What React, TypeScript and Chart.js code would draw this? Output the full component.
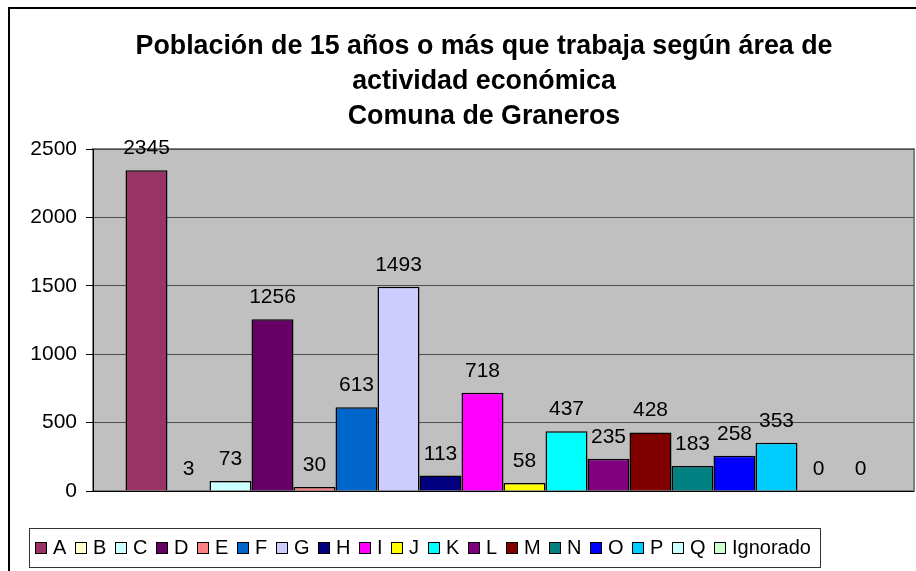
import React, { useEffect, useRef } from 'react';
import { Chart, registerables } from 'chart.js';

Chart.register(...registerables);

const TITLE_LINES = [
  'Población de 15 años o más que trabaja según área de',
  'actividad económica',
  'Comuna de Graneros',
];
const SERIES_NAMES = ['A', 'B', 'C', 'D', 'E', 'F', 'G', 'H', 'I', 'J', 'K', 'L', 'M', 'N', 'O', 'P', 'Q', 'Ignorado'];
const SERIES_VALUES = [2345, 3, 73, 1256, 30, 613, 1493, 113, 718, 58, 437, 235, 428, 183, 258, 353, 0, 0];
const Y_TICKS = [0, 500, 1000, 1500, 2000, 2500];

const SERIES_COLORS = [
  '#993366', '#FFFFCC', '#CCFFFF', '#660066', '#FF8080', '#0066CC', '#CCCCFF', '#000080', '#FF00FF',
  '#FFFF00', '#00FFFF', '#800080', '#800000', '#008080', '#0000FF', '#00CCFF', '#CCFFFF', '#CCFFCC',
];
const FONT = "'Liberation Sans', Arial, sans-serif";

const backgroundPlugin = {
  id: 'excelBackground',
  afterLayout(chart: any) {
    // centre the title on the (wider, partly hidden) chart frame
    const t = chart.titleBlock;
    if (t) {
      t.left = 54;
      t.width = t.right - t.left;
    }
  },
  beforeDraw(chart: any) {
    const { ctx, chartArea, width, height } = chart;
    ctx.save();
    ctx.fillStyle = '#FFFFFF';
    ctx.fillRect(0, 0, width, height);
    ctx.strokeStyle = '#000000';
    ctx.lineWidth = 2;
    ctx.strokeRect(9, 8, 2000, 2000);
    ctx.fillStyle = '#C0C0C0';
    ctx.fillRect(chartArea.left, chartArea.top, chartArea.right - chartArea.left, chartArea.bottom - chartArea.top);
    ctx.strokeStyle = '#808080';
    ctx.lineWidth = 2;
    ctx.strokeRect(chartArea.left, chartArea.top, chartArea.right - chartArea.left, chartArea.bottom - chartArea.top);
    ctx.restore();
  },
};

const valueLabelPlugin = {
  id: 'valueLabels',
  afterDatasetsDraw(chart: any) {
    const { ctx } = chart;
    ctx.save();
    ctx.font = `21px ${FONT}`;
    ctx.fillStyle = '#000000';
    ctx.textAlign = 'center';
    ctx.textBaseline = 'alphabetic';
    chart.data.datasets.forEach((ds: any, i: number) => {
      const meta = chart.getDatasetMeta(i);
      const el = meta.data[0];
      if (!el) return;
      ctx.fillText(String(ds.data[0]), el.x, el.y - 16);
    });
    ctx.restore();
  },
};

const legendPlugin = {
  id: 'boxLegend',
  afterDraw(chart: any) {
    const { ctx } = chart;
    ctx.save();
    ctx.strokeStyle = '#333333';
    ctx.lineWidth = 1;
    ctx.strokeRect(29.5, 528.5, 791, 39);
    ctx.font = `20px ${FONT}`;
    ctx.textAlign = 'left';
    ctx.textBaseline = 'alphabetic';
    let x = 35;
    chart.data.datasets.forEach((ds: any) => {
      const xi = Math.round(x);
      ctx.fillStyle = ds.backgroundColor;
      ctx.fillRect(xi, 542, 12, 12);
      ctx.strokeStyle = '#000000';
      ctx.strokeRect(xi + 0.5, 542.5, 11, 11);
      ctx.fillStyle = '#000000';
      ctx.fillText(ds.label, xi + 18, 554);
      x = xi + 18 + ctx.measureText(ds.label).width + 8.5;
    });
    ctx.restore();
  },
};

export default function App() {
  const canvasRef = useRef<HTMLCanvasElement | null>(null);

  useEffect(() => {
    if (!canvasRef.current) return;
    const datasets = SERIES_NAMES.map((name, i) => ({
      label: name,
      data: [SERIES_VALUES[i]],
      backgroundColor: SERIES_COLORS[i],
      borderColor: '#000000',
      borderWidth: 1.5,
      categoryPercentage: 756 / 821,
      barPercentage: 1,
    }));
    const chart = new Chart(canvasRef.current, {
      type: 'bar',
      data: { labels: [''], datasets },
      options: {
        responsive: false,
        animation: false,
        layout: { padding: { left: 22, right: 2, top: 29.5, bottom: 80 } },
        scales: {
          x: { display: false, grid: { display: false } },
          y: {
            min: Y_TICKS[0],
            max: Y_TICKS[Y_TICKS.length - 1],
            afterFit: (scale: any) => {
              scale.width = 71;
            },
            ticks: {
              stepSize: Y_TICKS[1] - Y_TICKS[0],
              color: '#000000',
              padding: 9,
              font: { family: FONT, size: 21 },
              callback: (v: any) => String(v),
            },
            grid: {
              color: (c: any) => (c.tick && c.tick.value === 0 ? '#000000' : '#4d4d4d'),
              tickColor: '#000000',
              tickLength: 7,
              lineWidth: 1,
            },
            border: { display: true, color: '#000000', width: 1 },
          },
        },
        plugins: {
          legend: { display: false },
          tooltip: { enabled: false },
          title: {
            display: true,
            text: TITLE_LINES,
            color: '#000000',
            font: { family: FONT, size: 26.8, weight: 'bold', lineHeight: 35 / 26.8 },
            padding: { top: 0, bottom: 14.5 },
          },
        },
      },
      plugins: [backgroundPlugin, valueLabelPlugin, legendPlugin],
    } as any);
    return () => chart.destroy();
  }, []);

  return (
    <div style={{ position: 'fixed', left: 0, top: 0, width: 916, height: 571, overflow: 'hidden' }}>
      <canvas ref={canvasRef} width={916} height={571} style={{ width: 916, height: 571, display: 'block' }} />
    </div>
  );
}
